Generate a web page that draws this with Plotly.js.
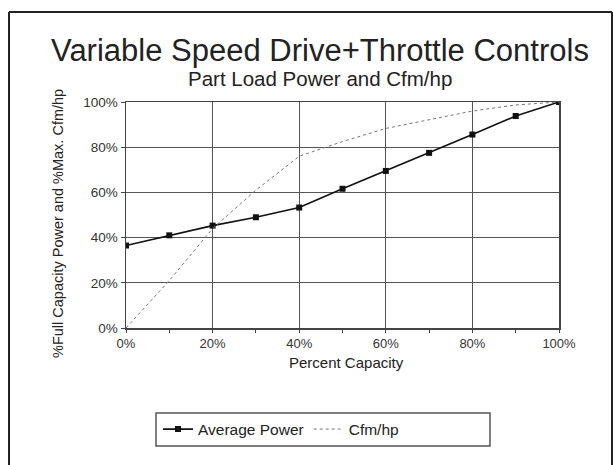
<!DOCTYPE html>
<html><head><meta charset="utf-8">
<script src="https://cdn.plot.ly/plotly-3.0.1.min.js"></script>
<style>html,body{margin:0;padding:0;background:#fff}#c{width:613px;height:465px}</style>
</head><body><div id="c"></div>
<script>
const capacity = [0, 10, 20, 30, 40, 50, 60, 70, 80, 90, 100];
const averagePower = [36.5, 41, 45.3, 49, 53.3, 61.6, 69.5, 77.5, 85.6, 93.8, 100];
const cfmPerHp = [0, 21, 44, 61, 76, 82.5, 88.3, 92.3, 96, 98.7, 100];
const xTickVals = [0, 20, 40, 60, 80, 100];
const xTickText = ['0%', '20%', '40%', '60%', '80%', '100%'];
const yTickVals = [0, 20, 40, 60, 80, 100];
const yTickText = ['0%', '20%', '40%', '60%', '80%', '100%'];

const L = 126, R = 559, T = 102, B = 328, W = 613, H = 465;
const px = x => (x - L) / (R - L);
const py = y => (B - y) / (B - T);
const font = 'Liberation Sans, Arial, sans-serif';

const traces = [
  {x: capacity, y: averagePower, name: 'Average Power', mode: 'lines+markers',
   line: {color: '#111', width: 1.6}, marker: {symbol: 'square', size: 6, color: '#111'}},
  {x: capacity, y: cfmPerHp, name: 'Cfm/hp', mode: 'lines',
   line: {color: '#777', width: 1, dash: 'dot'}}
];

const layout = {
  width: W, height: H,
  margin: {l: L, r: W - R, t: T, b: H - B},
  paper_bgcolor: '#fff', plot_bgcolor: '#fff',
  font: {family: font, color: '#222', size: 13},
  showlegend: true,
  legend: {orientation: 'h', x: px(158), y: py(429.5), xanchor: 'left', yanchor: 'middle',
           bgcolor: 'rgba(0,0,0,0)', font: {size: 15.5, color: '#222'}, itemwidth: 30},
  xaxis: {range: [0, 100], tickvals: xTickVals, ticktext: xTickText, showgrid: true,
          gridcolor: '#555', gridwidth: 1, zeroline: false, showline: true, linecolor: '#444',
          linewidth: 1.5, mirror: true, ticks: 'outside', ticklen: 3, tickcolor: '#444',
          minor: {dtick: 10, ticks: 'outside', ticklen: 3, tickcolor: '#444', showgrid: false},
          tickfont: {size: 13, color: '#333'}, fixedrange: true},
  yaxis: {range: [0, 100], tickvals: yTickVals, ticktext: yTickText, showgrid: true,
          gridcolor: '#555', gridwidth: 1.3, zeroline: false, showline: true, linecolor: '#444',
          linewidth: 1.5, mirror: true, ticks: 'outside', ticklen: 4, tickcolor: '#444',
          tickfont: {size: 13.5, color: '#333'}, fixedrange: true},
  annotations: [
    {text: 'Variable Speed Drive+Throttle Controls', xref: 'paper', yref: 'paper',
     x: px(320), y: py(51), showarrow: false, xanchor: 'center', yanchor: 'middle',
     font: {size: 31, color: '#222', family: font}},
    {text: 'Part Load Power and Cfm/hp', xref: 'paper', yref: 'paper',
     x: px(320), y: py(78), showarrow: false, xanchor: 'center', yanchor: 'middle',
     font: {size: 20.5, color: '#222', family: font}},
    {text: 'Percent Capacity', xref: 'paper', yref: 'paper',
     x: px(346), y: py(362), showarrow: false, xanchor: 'center', yanchor: 'middle',
     font: {size: 15, color: '#222', family: font}},
    {text: '%Full Capacity Power and %Max. Cfm/hp', xref: 'paper', yref: 'paper',
     x: px(58), y: py(224), showarrow: false, xanchor: 'center', yanchor: 'middle', textangle: -90,
     font: {size: 14.5, color: '#222', family: font}}
  ],
  shapes: [
    {type: 'rect', xref: 'paper', yref: 'paper', x0: px(156), x1: px(490), y0: py(446), y1: py(413),
     line: {color: '#555', width: 1.5}},
    {type: 'line', xref: 'paper', yref: 'paper', x0: px(9), x1: px(9), y0: py(12), y1: py(466),
     line: {color: '#222', width: 2}},
    {type: 'line', xref: 'paper', yref: 'paper', x0: px(9), x1: px(612), y0: py(12), y1: py(12),
     line: {color: '#222', width: 2}},
    {type: 'line', xref: 'paper', yref: 'paper', x0: px(612), x1: px(612), y0: py(12), y1: py(466),
     line: {color: '#222', width: 2}}
  ]
};

Plotly.newPlot('c', traces, layout, {displayModeBar: false, staticPlot: true});
</script></body></html>
